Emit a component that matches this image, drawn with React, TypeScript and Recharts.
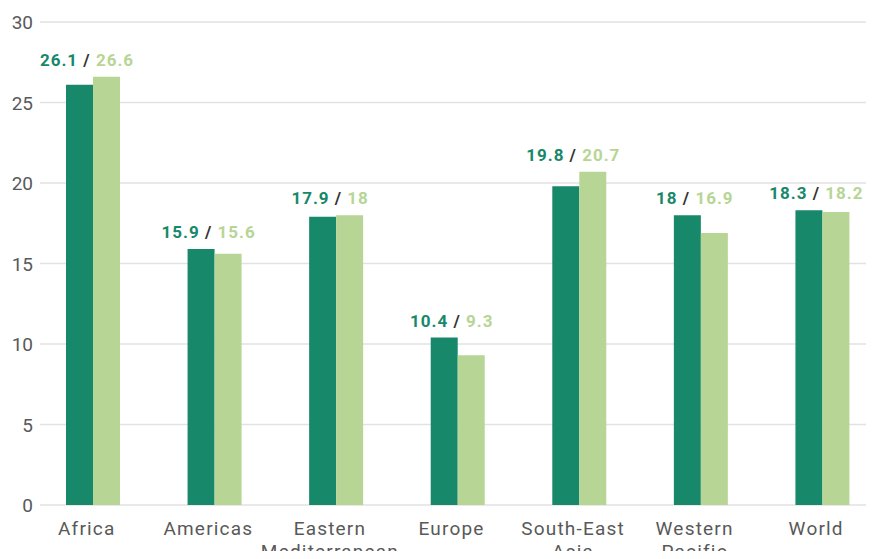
import { Bar, BarChart, CartesianGrid, LabelList, XAxis, YAxis } from "recharts"

const regions = [
  "Africa",
  "Americas",
  "Eastern Mediterranean",
  "Europe",
  "South-East Asia",
  "Western Pacific",
  "World",
]
const firstValues = [26.1, 15.9, 17.9, 10.4, 19.8, 18, 18.3]
const secondValues = [26.6, 15.6, 18, 9.3, 20.7, 16.9, 18.2]
const yTicks = [0, 5, 10, 15, 20, 25, 30]

const DARK = "#18886b"
const LIGHT = "#b7d595"
const TEXT = "#595959"

const data = regions.map((name, i) => ({
  name,
  first: firstValues[i],
  second: secondValues[i],
}))

const font = "Roboto, 'Noto Sans', sans-serif"

// region names wrap onto a second line at the space
function RegionTick({ x, y, payload }: any) {
  const words: string[] = payload.value.split(" ")
  const cx = x - 6
  return (
    <text
      x={cx}
      y={y}
      textAnchor="middle"
      fill={TEXT}
      fontSize={19}
      fontFamily={font}
      letterSpacing={1.2}
    >
      {words.map((w, i) => (
        <tspan key={i} x={cx} dy={i === 0 ? 30 : 23}>
          {w}
        </tspan>
      ))}
    </text>
  )
}

function ValueTick({ y, payload }: any) {
  return (
    <text x={33} y={y + 7} textAnchor="end" fill={TEXT} fontSize={19} fontFamily={font}>
      {payload.value}
    </text>
  )
}

// "a / b" above the taller bar of each pair
function PairLabel(props: any) {
  const { x, y, height, index } = props
  const a = firstValues[index]
  const b = secondValues[index]
  const perUnit = height / b
  const top = y + height - Math.max(a, b) * perUnit
  return (
    <text
      x={x - 6}
      y={top - 11}
      textAnchor="middle"
      fontSize={17}
      fontWeight={700}
      fontFamily={font}
      letterSpacing={1}
    >
      <tspan fill={DARK}>{a}</tspan>
      <tspan fill="#333333"> / </tspan>
      <tspan fill={LIGHT}>{b}</tspan>
    </text>
  )
}

function GridLine(props: any) {
  const { x1, x2, y1, y2 } = props
  return <line x1={x1 + 8} x2={x2} y1={y1} y2={y2} stroke="#e2e2e2" strokeWidth={1.5} />
}

export default function App() {
  return (
    <div style={{ margin: -8, width: 874, height: 559, overflow: "hidden", background: "#fff" }}>
      <BarChart
        width={900}
        height={559}
        data={data}
        margin={{ top: 22, right: 17, bottom: 0, left: 0 }}
        barGap={0}
        barSize={27}
      >
        <CartesianGrid vertical={false} horizontal={GridLine} />
        <XAxis
          dataKey="name"
          height={54}
          tickLine={false}
          axisLine={false}
          tickSize={0}
          tickMargin={0}
          interval={0}
          tick={<RegionTick />}
        />
        <YAxis
          width={32}
          domain={[0, 30]}
          ticks={yTicks}
          tickLine={false}
          axisLine={false}
          tick={<ValueTick />}
        />
        <Bar dataKey="first" fill={DARK} isAnimationActive={false} />
        <Bar dataKey="second" fill={LIGHT} isAnimationActive={false}>
          <LabelList dataKey="second" content={<PairLabel />} />
        </Bar>
      </BarChart>
    </div>
  )
}
